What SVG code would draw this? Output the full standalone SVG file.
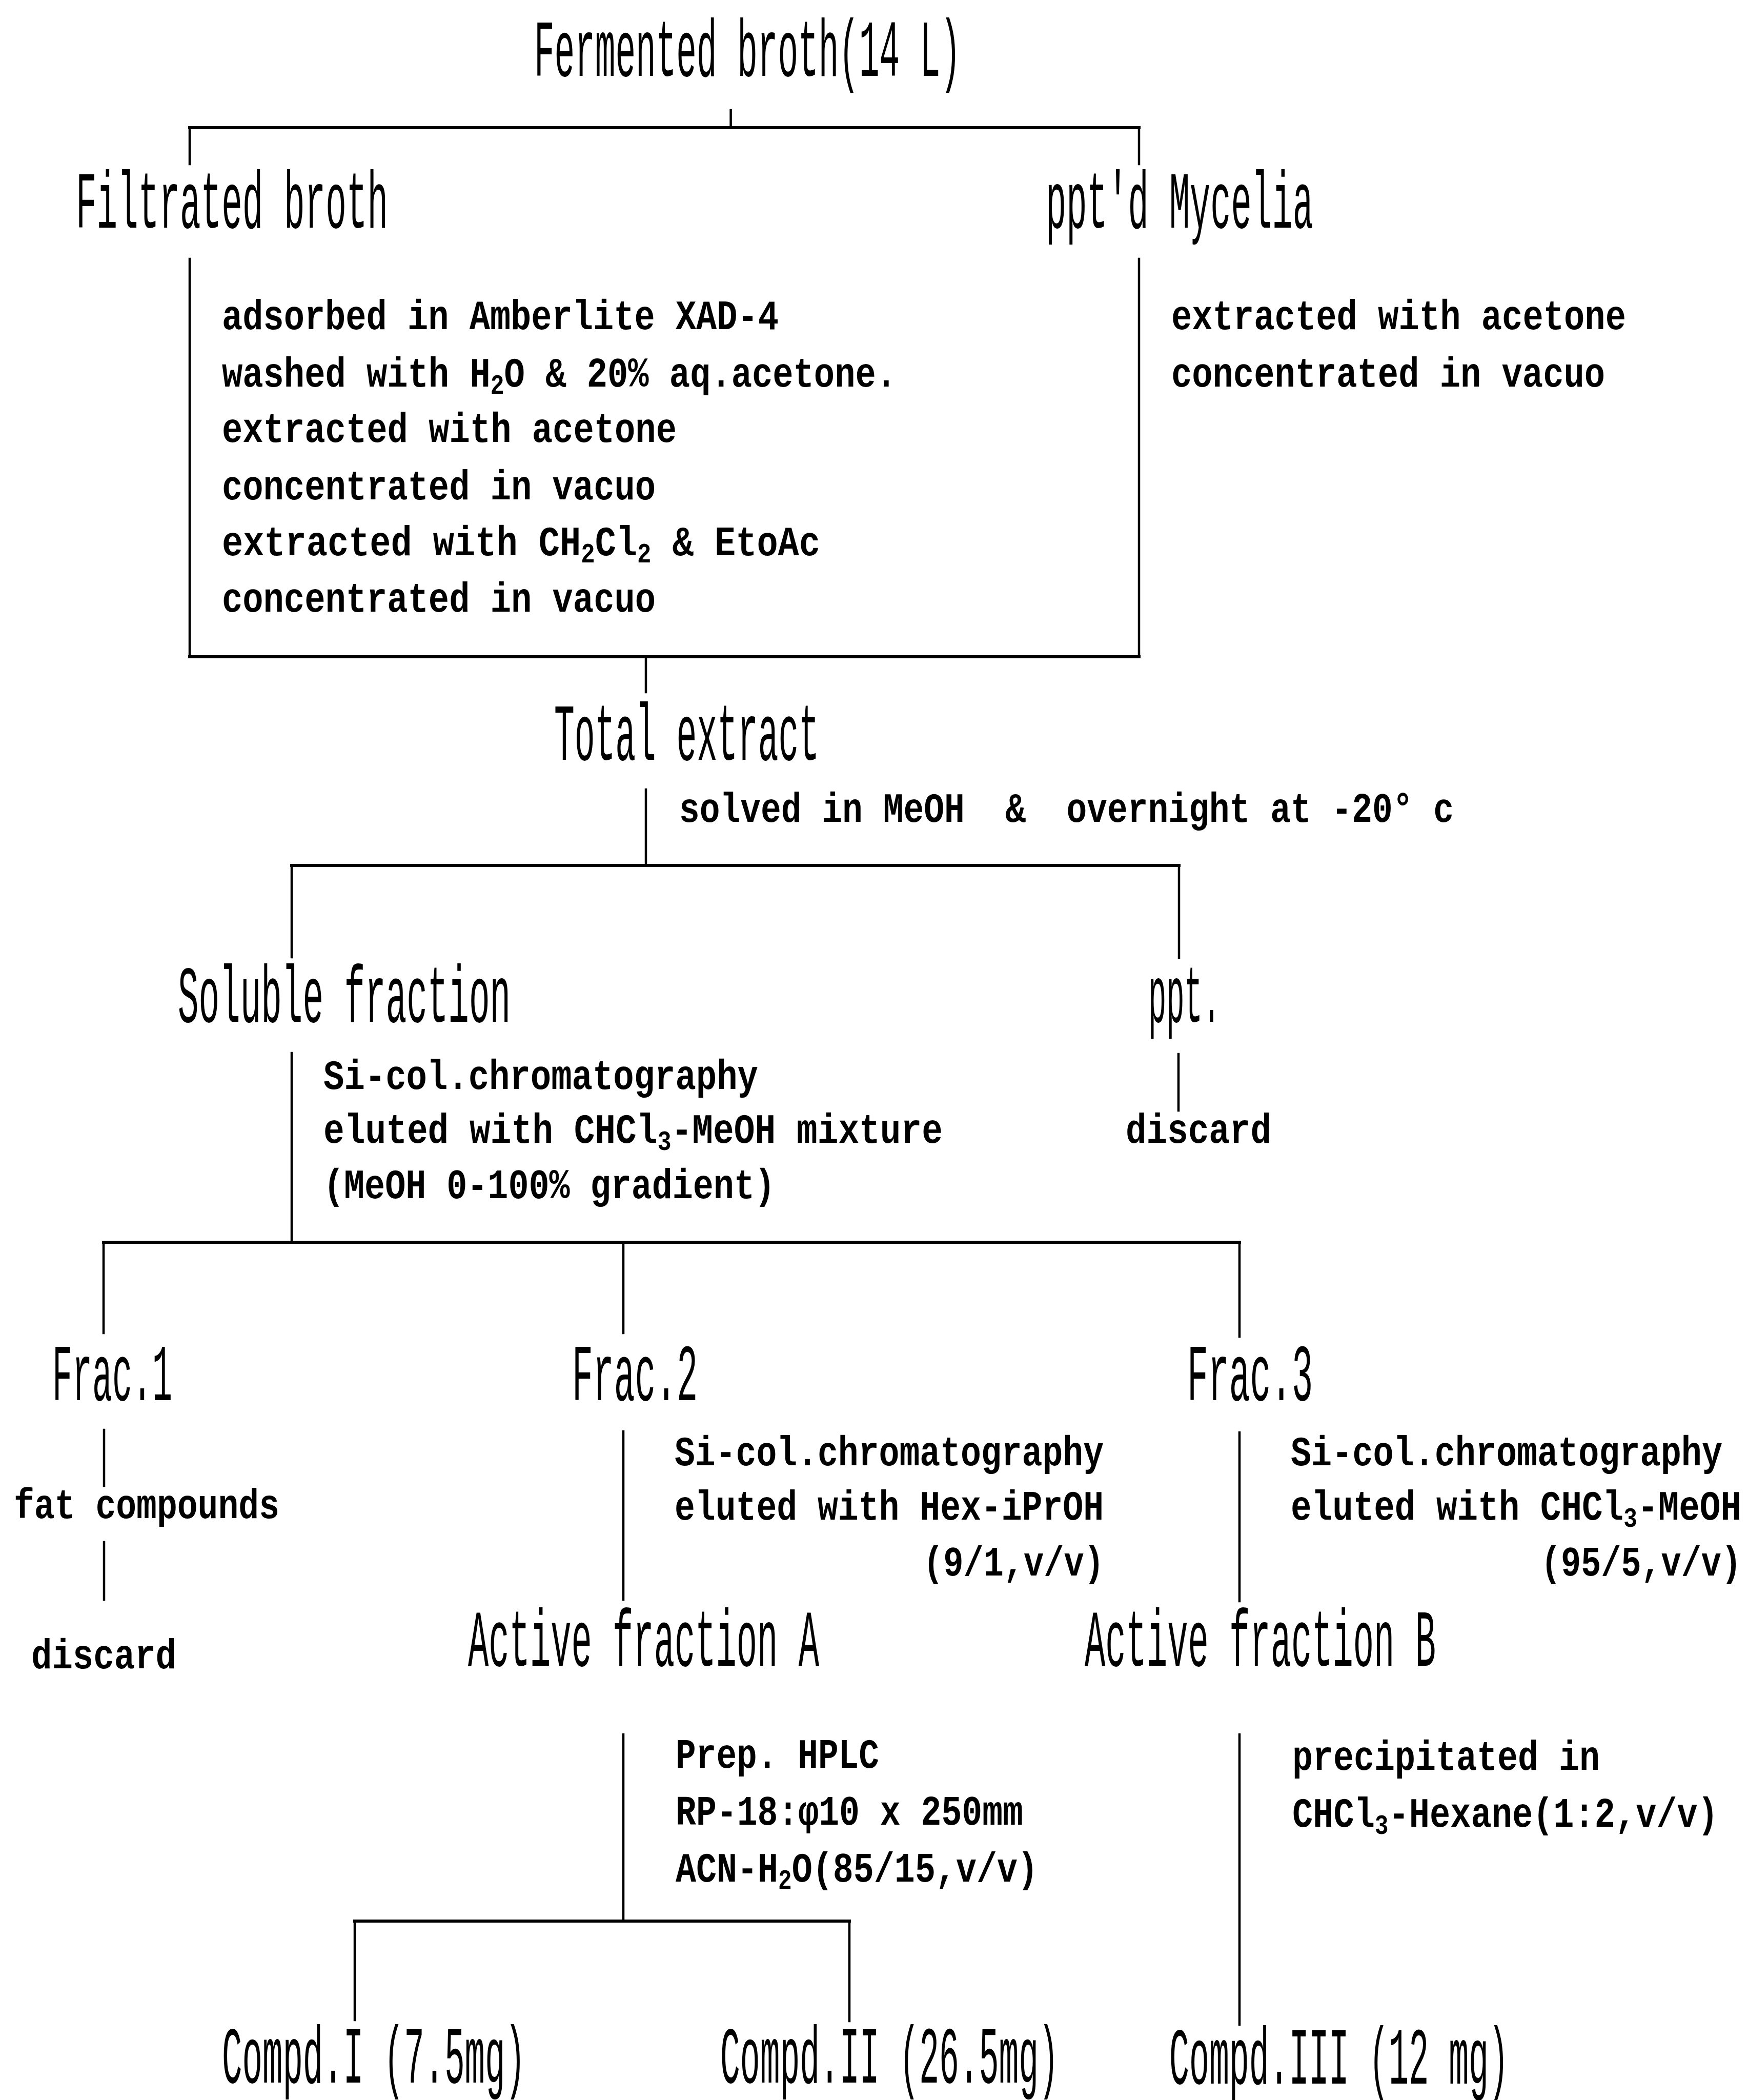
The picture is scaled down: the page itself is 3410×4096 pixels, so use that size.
<svg xmlns="http://www.w3.org/2000/svg" width="3410" height="4096" viewBox="0 0 3410 4096">
  <style>
    .t { font-family: "Liberation Mono", "Courier New", monospace; fill: #000; }
    .title { font-size: 158px; font-weight: normal; }
    .body { font-size: 81px; font-weight: bold; }
    .sub { font-size: 54px; }
    .ln { stroke: #000; fill: none; stroke-linecap: square; }
    .h { stroke-width: 6; }
    .v { stroke-width: 4.5; }
  </style>
  <rect width="3410" height="4096" fill="#fff"/>

  <!-- connectors -->
  <g id="connectors" class="ln">
    <path class="v" d="M1425.6,215 V249" stroke-width="3"/>
    <path class="h" d="M370,249 H2222"/>
    <path class="v" d="M370,249 V320 M2222,249 V320"/>
    <path class="v" d="M370,505 V1281 M2222,505 V1281"/>
    <path class="h" d="M370,1281 H2222"/>
    <path class="v" d="M1260,1281 V1350"/>
    <path class="v" d="M1260,1540 V1688"/>
    <path class="h" d="M569,1688 H2300"/>
    <path class="v" d="M569,1688 V1867 M2300,1688 V1868"/>
    <path class="v" d="M569,2054 V2423"/>
    <path class="v" d="M2299,2056 V2166"/>
    <path class="h" d="M202,2423 H2418"/>
    <path class="v" d="M202,2423 V2600 M1216,2423 V2600 M2418,2423 V2607"/>
    <path class="v" d="M203,2789 V2898 M203,3008 V3120"/>
    <path class="v" d="M1216,2792 V3120"/>
    <path class="v" d="M2418,2794 V3123"/>
    <path class="v" d="M1216,3383 V3747"/>
    <path class="h" d="M692,3747 H1657"/>
    <path class="v" d="M692,3747 V3940 M1657,3747 V3942"/>
    <path class="v" d="M2418,3383 V3949"/>
  </g>

  <!-- stage nodes -->
  <g id="fermented-broth"><text class="t title" x="1042" y="148" textLength="832" lengthAdjust="spacingAndGlyphs">Fermented broth(14 L)</text></g>
  <g id="filtrated-broth"><text class="t title" x="148" y="444" textLength="609" lengthAdjust="spacingAndGlyphs">Filtrated broth</text></g>
  <g id="mycelia"><text class="t title" x="2040" y="444" textLength="522" lengthAdjust="spacingAndGlyphs">ppt'd Mycelia</text></g>
  <g id="total-extract"><text class="t title" x="1081" y="1482" textLength="517" lengthAdjust="spacingAndGlyphs">Total extract</text></g>
  <g id="soluble-fraction"><text class="t title" x="347" y="1993" textLength="649" lengthAdjust="spacingAndGlyphs">Soluble fraction</text></g>
  <g id="ppt"><text class="t title" x="2240" y="1993" textLength="141" lengthAdjust="spacingAndGlyphs">ppt.</text></g>
  <g id="frac1"><text class="t title" x="102" y="2731" textLength="234" lengthAdjust="spacingAndGlyphs">Frac.1</text></g>
  <g id="frac2"><text class="t title" x="1116" y="2731" textLength="245" lengthAdjust="spacingAndGlyphs">Frac.2</text></g>
  <g id="frac3"><text class="t title" x="2316" y="2731" textLength="245" lengthAdjust="spacingAndGlyphs">Frac.3</text></g>
  <g id="active-a"><text class="t title" x="913" y="3249" textLength="685" lengthAdjust="spacingAndGlyphs">Active fraction A</text></g>
  <g id="active-b"><text class="t title" x="2116" y="3249" textLength="685" lengthAdjust="spacingAndGlyphs">Active fraction B</text></g>
  <g id="compd1"><text class="t title" x="433" y="4062" textLength="592" lengthAdjust="spacingAndGlyphs">Compd.I (7.5mg)</text></g>
  <g id="compd2"><text class="t title" x="1405" y="4062" textLength="660" lengthAdjust="spacingAndGlyphs">Compd.II (26.5mg)</text></g>
  <g id="compd3"><text class="t title" x="2281" y="4064" textLength="662" lengthAdjust="spacingAndGlyphs">Compd.III (12 mg)</text></g>

  <!-- process conditions -->
  <g id="broth-steps" class="t body">
    <text x="433" y="642" textLength="1086" lengthAdjust="spacingAndGlyphs">adsorbed in Amberlite XAD-4</text>
    <text x="433" y="754" textLength="1316" lengthAdjust="spacingAndGlyphs">washed with H<tspan class="sub" dy="14">2</tspan><tspan dy="-14">O &amp; 20% aq.acetone.</tspan></text>
    <text x="433" y="862" textLength="887" lengthAdjust="spacingAndGlyphs">extracted with acetone</text>
    <text x="433" y="974" textLength="846" lengthAdjust="spacingAndGlyphs">concentrated in vacuo</text>
    <text x="433" y="1083" textLength="1167" lengthAdjust="spacingAndGlyphs">extracted with CH<tspan class="sub" dy="14">2</tspan><tspan dy="-14">Cl</tspan><tspan class="sub" dy="14">2</tspan><tspan dy="-14"> &amp; EtoAc</tspan></text>
    <text x="433" y="1193" textLength="846" lengthAdjust="spacingAndGlyphs">concentrated in vacuo</text>
  </g>
  <g id="mycelia-steps" class="t body">
    <text x="2285" y="642" textLength="887" lengthAdjust="spacingAndGlyphs">extracted with acetone</text>
    <text x="2285" y="754" textLength="846" lengthAdjust="spacingAndGlyphs">concentrated in vacuo</text>
  </g>
  <g id="extract-step" class="t body">
    <text xml:space="preserve" x="1325" y="1603" textLength="1511" lengthAdjust="spacingAndGlyphs">solved in MeOH  &amp;  overnight at -20° c</text>
  </g>
  <g id="soluble-steps" class="t body">
    <text x="631" y="2124" textLength="848" lengthAdjust="spacingAndGlyphs">Si-col.chromatography</text>
    <text x="631" y="2229" textLength="1208" lengthAdjust="spacingAndGlyphs">eluted with CHCl<tspan class="sub" dy="14">3</tspan><tspan dy="-14">-MeOH mixture</tspan></text>
    <text x="631" y="2337" textLength="881" lengthAdjust="spacingAndGlyphs">(MeOH 0-100% gradient)</text>
  </g>
  <g id="ppt-discard" class="t body">
    <text x="2196" y="2229" textLength="284" lengthAdjust="spacingAndGlyphs">discard</text>
  </g>
  <g id="frac1-steps" class="t body">
    <text x="27" y="2961" textLength="518" lengthAdjust="spacingAndGlyphs">fat compounds</text>
    <text x="61" y="3254" textLength="283" lengthAdjust="spacingAndGlyphs">discard</text>
  </g>
  <g id="frac2-steps" class="t body">
    <text x="1316" y="2858" textLength="837" lengthAdjust="spacingAndGlyphs">Si-col.chromatography</text>
    <text x="1316" y="2964" textLength="837" lengthAdjust="spacingAndGlyphs">eluted with Hex-iPrOH</text>
    <text x="1801" y="3073" textLength="353" lengthAdjust="spacingAndGlyphs">(9/1,v/v)</text>
  </g>
  <g id="frac3-steps" class="t body">
    <text x="2518" y="2858" textLength="842" lengthAdjust="spacingAndGlyphs">Si-col.chromatography</text>
    <text x="2518" y="2964" textLength="879" lengthAdjust="spacingAndGlyphs">eluted with CHCl<tspan class="sub" dy="14">3</tspan><tspan dy="-14">-MeOH</tspan></text>
    <text x="3006" y="3073" textLength="391" lengthAdjust="spacingAndGlyphs">(95/5,v/v)</text>
  </g>
  <g id="hplc-steps" class="t body">
    <text x="1318" y="3448" textLength="397" lengthAdjust="spacingAndGlyphs">Prep. HPLC</text>
    <text x="1318" y="3559" textLength="678" lengthAdjust="spacingAndGlyphs">RP-18:φ10 x 250mm</text>
    <text x="1318" y="3670" textLength="707" lengthAdjust="spacingAndGlyphs">ACN-H<tspan class="sub" dy="14">2</tspan><tspan dy="-14">O(85/15,v/v)</tspan></text>
  </g>
  <g id="precip-steps" class="t body">
    <text x="2521" y="3452" textLength="600" lengthAdjust="spacingAndGlyphs">precipitated in</text>
    <text x="2521" y="3563" textLength="831" lengthAdjust="spacingAndGlyphs">CHCl<tspan class="sub" dy="14">3</tspan><tspan dy="-14">-Hexane(1:2,v/v)</tspan></text>
  </g>
</svg>
